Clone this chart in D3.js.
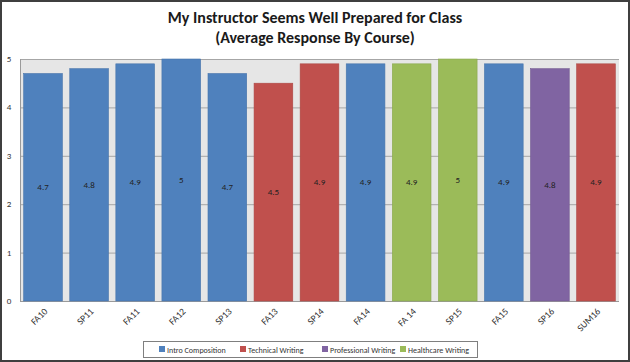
<!DOCTYPE html>
<html>
<head>
<meta charset="utf-8">
<script src="https://cdn.jsdelivr.net/npm/d3@7"></script>
<style>
  body { margin: 0; background: #fff; }
  svg { display: block; font-family: Carlito, Calibri, "Open Sans", sans-serif; }
</style>
</head>
<body>
<div id="chart"></div>
<script>
// data
var courses = ["FA10", "SP11", "FA11", "FA12", "SP13", "FA13", "SP14", "FA14", "FA 14", "SP15", "FA15", "SP16", "SUM16"];
var scores = [4.7, 4.8, 4.9, 5, 4.7, 4.5, 4.9, 4.9, 4.9, 5, 4.9, 4.8, 4.9];
var courseType = ["Intro Composition", "Intro Composition", "Intro Composition", "Intro Composition", "Intro Composition",
    "Technical Writing", "Technical Writing", "Intro Composition", "Healthcare Writing", "Healthcare Writing",
    "Intro Composition", "Professional Writing", "Technical Writing"];
var types = ["Intro Composition", "Technical Writing", "Professional Writing", "Healthcare Writing"];
var typeColors = ["#4f81bd", "#c0504d", "#8064a2", "#9bbb59"];
var yTicks = [0, 1, 2, 3, 4, 5];

var W = 630, H = 362;
var margin = {top: 59, right: 11, bottom: 61, left: 20},
    width = W - margin.left - margin.right,
    height = H - margin.top - margin.bottom;

var svg = d3.select("#chart").append("svg")
    .attr("width", W)
    .attr("height", H);

// outer frame
svg.append("rect")
    .attr("x", 1).attr("y", 1)
    .attr("width", W - 2).attr("height", H - 2)
    .attr("fill", "#fff")
    .attr("stroke", "#3f3f3f")
    .attr("stroke-width", 2);

svg.append("text")
    .attr("x", W / 2).attr("y", 23)
    .attr("text-anchor", "middle")
    .style("font-size", "16px").style("font-weight", "bold").style("fill", "#1a1a1a")
    .text("My Instructor Seems Well Prepared for Class");
svg.append("text")
    .attr("x", W / 2).attr("y", 43)
    .attr("text-anchor", "middle")
    .style("font-size", "16px").style("font-weight", "bold").style("fill", "#1a1a1a")
    .text("(Average Response By Course)");

var g = svg.append("g")
    .attr("transform", "translate(" + margin.left + "," + margin.top + ")");

var x = d3.scaleBand()
    .domain(courses)
    .range([0, width])
    .paddingInner(0.16)
    .paddingOuter(0.08);

var y = d3.scaleLinear()
    .domain([0, 5])
    .range([height, 0]);

var color = d3.scaleOrdinal()
    .domain(types)
    .range(typeColors);

g.append("rect")
    .attr("width", width).attr("height", height)
    .attr("fill", "#e6e6e6");

// gridlines
g.selectAll(".grid")
    .data(yTicks)
    .enter().append("line")
    .attr("x1", 0).attr("x2", width)
    .attr("y1", function(d) { return y(d) + 0.5; })
    .attr("y2", function(d) { return y(d) + 0.5; })
    .attr("stroke", function(d) { return d === 0 ? "#9a9a9a" : "#a6a6a6"; })
    .attr("stroke-width", 1);

g.append("line")
    .attr("x1", 0.5).attr("x2", 0.5)
    .attr("y1", 0).attr("y2", height)
    .attr("stroke", "#9a9a9a");

var bars = g.selectAll(".bar")
    .data(courses)
    .enter().append("g");

bars.append("rect")
    .attr("x", function(d) { return x(d); })
    .attr("y", function(d, i) { return y(scores[i]); })
    .attr("width", x.bandwidth())
    .attr("height", function(d, i) { return height - y(scores[i]); })
    .attr("fill", function(d, i) { return color(courseType[i]); })
    .attr("stroke", function(d, i) { return d3.color(color(courseType[i])).darker(0.3); })
    .attr("stroke-width", 0.6);

bars.append("text")
    .attr("x", function(d) { return x(d) + x.bandwidth() / 2; })
    .attr("y", function(d, i) { return y(scores[i] / 2) + 3; })
    .attr("text-anchor", "middle")
    .style("font-size", "9px").style("fill", "#222")
    .text(function(d, i) { return scores[i]; });

// y axis labels
g.selectAll(".ylab")
    .data(yTicks)
    .enter().append("text")
    .attr("x", -11)
    .attr("y", function(d) { return y(d) + 3; })
    .attr("text-anchor", "middle")
    .style("font-size", "9px").style("fill", "#333")
    .text(function(d) { return d; });

// x axis labels, rotated
g.selectAll(".xlab")
    .data(courses)
    .enter().append("text")
    .attr("transform", function(d) {
        return "translate(" + (x(d) + x.bandwidth() / 2 + 5) + "," + (height + 11) + ") rotate(-45)";
    })
    .attr("text-anchor", "end")
    .style("font-size", "9.5px").style("fill", "#333")
    .text(function(d) { return d; });

// legend
var legend = svg.append("g").attr("transform", "translate(143,341)");
legend.append("rect")
    .attr("x", 0.5).attr("y", 0.5)
    .attr("width", 334).attr("height", 16)
    .attr("fill", "#fff").attr("stroke", "#7f7f7f");

var legendX = [16, 97, 179, 257];
var item = legend.selectAll(".item")
    .data(types)
    .enter().append("g")
    .attr("transform", function(d, i) { return "translate(" + legendX[i] + ",0)"; });
item.append("rect")
    .attr("x", 0).attr("y", 5)
    .attr("width", 6).attr("height", 6)
    .attr("fill", function(d) { return color(d); });
item.append("text")
    .attr("x", 8).attr("y", 11.5)
    .style("font-size", "8px").style("fill", "#333")
    .text(function(d) { return d; });
</script>
</body>
</html>
